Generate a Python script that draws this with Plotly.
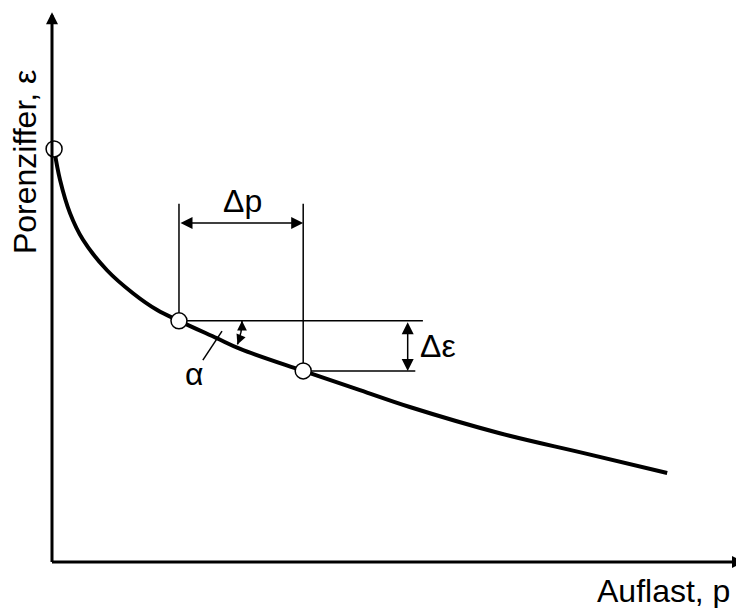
import numpy as np
import plotly.graph_objects as go

# Drucksetzungslinie (schematisch)
auflast = [3, 11.6, 26, 44.8, 79.5, 117, 152, 183.5, 238, 272, 363, 445, 517, 647, 767, 889]
porenziffer = [0.882, 0.816, 0.745, 0.688, 0.623, 0.574, 0.538, 0.515,
               0.478, 0.455, 0.408, 0.367, 0.331, 0.275, 0.233, 0.190]

# markierte Punkte auf der Kurve
punkte_p = [3, 183.5, 363]
punkte_e = [0.882, 0.515, 0.408]

# Bemassung
hilfslinie_oben = 0.765      # Ende der senkrechten Hilfslinien
dp_hoehe = 0.724             # Hoehe des Delta-p-Pfeils
de_lage = 514                # Lage des Delta-e-Pfeils
h_linie_ende = [536, 525]    # Ende der waagerechten Hilfslinien
achse_p_max = 1000
achse_e_max = 1.174

# Seite hat 8px Rand im Browser -> Figur etwas kleiner
W, H = 736, 600
RAND = dict(l=44, r=0, t=0, b=46)
X_BEREICH = [0, 1000]
Y_BEREICH = [0, 1.183]
px_x = (W - RAND['l'] - RAND['r']) / (X_BEREICH[1] - X_BEREICH[0])
px_y = (H - RAND['t'] - RAND['b']) / (Y_BEREICH[1] - Y_BEREICH[0])


def papier_x(p):
    return (p - X_BEREICH[0]) / (X_BEREICH[1] - X_BEREICH[0])


def papier_y(e):
    return (e - Y_BEREICH[0]) / (Y_BEREICH[1] - Y_BEREICH[0])


SCHRIFT = "Liberation Sans, Arial, Helvetica, sans-serif"

fig = go.Figure()

# senkrechte und waagerechte Hilfslinien
p1, p2 = punkte_p[1], punkte_p[2]
e1, e2 = punkte_e[1], punkte_e[2]
hx = [p1, p1, None, p2, p2, None, p1, h_linie_ende[0], None, p2, h_linie_ende[1]]
hy = [e1, hilfslinie_oben, None, e2, hilfslinie_oben, None, e1, e1, None, e2, e2]
fig.add_trace(go.Scatter(x=hx, y=hy, mode='lines', line=dict(color='black', width=1.5),
                         hoverinfo='skip', showlegend=False))

# Winkelbogen alpha (zwischen Waagerechter und Sehne)
r_px = 63
winkel = np.arctan2((e1 - e2) * px_y, (p2 - p1) * px_x)
t = np.linspace(0, winkel, 20)
bogen_p = p1 + r_px * np.cos(t) / px_x
bogen_e = e1 - r_px * np.sin(t) / px_y
fig.add_trace(go.Scatter(x=bogen_p, y=bogen_e, mode='lines', line=dict(color='black', width=1.5),
                         hoverinfo='skip', showlegend=False))

# Zeigerlinie fuer alpha
fig.add_trace(go.Scatter(x=[218, 245.7], y=[0.431, 0.493], mode='lines',
                         line=dict(color='black', width=1.5), hoverinfo='skip', showlegend=False))

# Kurve
fig.add_trace(go.Scatter(x=auflast, y=porenziffer, mode='lines', line=dict(color='black', width=4, shape='spline'),
                         hoverinfo='skip', showlegend=False))

# Punkte
fig.add_trace(go.Scatter(x=punkte_p, y=punkte_e, mode='markers', cliponaxis=False,
                         marker=dict(size=16, color='white', line=dict(color='black', width=1.5)),
                         hoverinfo='skip', showlegend=False))

pfeil = dict(text='', showarrow=True, arrowcolor='black', axref='x', ayref='y', standoff=0)

# Achsen mit Pfeilspitzen
fig.add_annotation(x=0, y=achse_e_max, ax=0, ay=-1.5 / px_y, arrowhead=2, arrowwidth=3, arrowsize=0.8, **pfeil)
fig.add_annotation(x=achse_p_max, y=0, ax=-1.5 / px_x, ay=0, arrowhead=2, arrowwidth=3, arrowsize=0.8, **pfeil)

# Bemassungspfeile
fig.add_annotation(x=p2, y=dp_hoehe, ax=p1, ay=dp_hoehe, arrowhead=2, startarrowhead=2,
                   arrowside='end+start', arrowwidth=1.5, arrowsize=1.6, startarrowsize=1.6, **pfeil)
fig.add_annotation(x=de_lage, y=e2, ax=de_lage, ay=e1, arrowhead=2, startarrowhead=2,
                   arrowside='end+start', arrowwidth=1.5, arrowsize=1.6, startarrowsize=1.6, **pfeil)

# Pfeilspitzen am Winkelbogen
L = 9
fig.add_annotation(x=bogen_p[0], y=bogen_e[0], ax=0, ay=L, text='', showarrow=True, arrowcolor='black',
                   arrowhead=2, arrowwidth=1.5, arrowsize=1.3, standoff=0)
fig.add_annotation(x=bogen_p[-1], y=bogen_e[-1], ax=np.sin(winkel) * L, ay=-np.cos(winkel) * L, text='',
                   showarrow=True, arrowcolor='black', arrowhead=2, arrowwidth=1.5, arrowsize=1.3, standoff=0)

# Beschriftungen
txt = dict(showarrow=False, xanchor='center', yanchor='middle',
           font=dict(family=SCHRIFT, size=32, color='black'))
fig.add_annotation(x=274.6, y=0.771, text='Δp', **txt)
fig.add_annotation(x=557.8, y=0.461, text='Δε', **txt)
fig.add_annotation(x=206.6, y=0.401, text='α', **txt)
fig.add_annotation(x=papier_x(884), y=papier_y(-0.062), xref='paper', yref='paper', text='Auflast, p', **txt)
fig.add_annotation(x=papier_x(-39), y=papier_y(0.854), xref='paper', yref='paper', text='Porenziffer, ε',
                   textangle=-90, **txt)

fig.update_layout(
    width=W, height=H, margin=RAND,
    plot_bgcolor='white', paper_bgcolor='white',
    xaxis=dict(range=X_BEREICH, visible=False, fixedrange=True),
    yaxis=dict(range=Y_BEREICH, visible=False, fixedrange=True),
)

fig.write_html("out.html")
